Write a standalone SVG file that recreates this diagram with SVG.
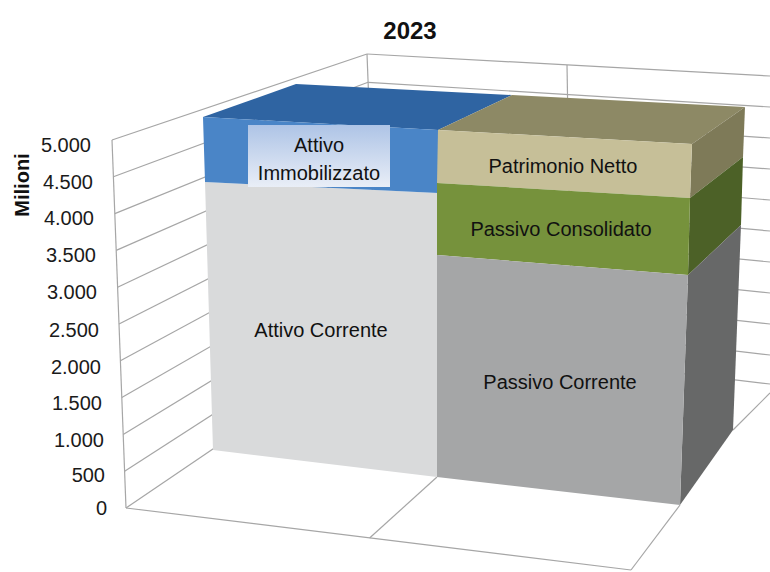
<svg xmlns="http://www.w3.org/2000/svg" width="770" height="572" viewBox="0 0 770 572">
<defs>
<linearGradient id="lblGrad" x1="0" y1="0" x2="0" y2="1">
<stop offset="0" stop-color="#aec4e6"/>
<stop offset="1" stop-color="#e9eef7"/>
</linearGradient>
</defs>
<style>
.grid{stroke:#a6a6a6;stroke-width:1.2;fill:none}
.tick{font-family:"Liberation Sans",Arial,sans-serif;font-size:20px;fill:#1a1a1a;text-anchor:end}
.lbl{font-family:"Liberation Sans",Arial,sans-serif;font-size:20px;fill:#111;text-anchor:middle}
.title{font-family:"Liberation Sans",Arial,sans-serif;font-size:24px;font-weight:bold;fill:#111;text-anchor:middle}
</style>
<rect width="770" height="572" fill="#ffffff"/>
<text class="title" x="410" y="39">2023</text>
<text x="29" y="185" transform="rotate(-90 29 185)" font-family="Liberation Sans, Arial, sans-serif" font-size="20" font-weight="bold" fill="#111" text-anchor="middle">Milioni</text>
<g id="axis-labels">
<text class="tick" x="91" y="152">5.000</text>
<text class="tick" x="93" y="189">4.500</text>
<text class="tick" x="94" y="225">4.000</text>
<text class="tick" x="96" y="262">3.500</text>
<text class="tick" x="97" y="299">3.000</text>
<text class="tick" x="99" y="337">2.500</text>
<text class="tick" x="101" y="374">2.000</text>
<text class="tick" x="102" y="410">1.500</text>
<text class="tick" x="104" y="447">1.000</text>
<text class="tick" x="105" y="482">500</text>
<text class="tick" x="107" y="515">0</text>
</g>
<g id="walls" class="grid">
<path d="M112,140 L126,508"/>
<path d="M367,54 L378,337"/>
<path d="M567,65 L572,360"/>
<path d="M126,508 L378,337"/>
<path d="M124.6,471.2 L376.9,308.7"/>
<path d="M123.2,434.4 L375.8,280.4"/>
<path d="M121.8,397.6 L374.7,252.1"/>
<path d="M120.4,360.8 L373.6,223.8"/>
<path d="M119,324 L372.5,195.5"/>
<path d="M117.6,287.2 L371.4,167.2"/>
<path d="M116.2,250.4 L370.3,138.9"/>
<path d="M114.8,213.6 L369.2,110.6"/>
<path d="M113.4,176.8 L368.1,82.3"/>
<path d="M112,140 L367,54"/>
<path d="M378,337 L770,384"/>
<path d="M376.9,308.7 L770,355"/>
<path d="M375.8,280.4 L770,324"/>
<path d="M374.7,252.1 L770,293"/>
<path d="M373.6,223.8 L770,262"/>
<path d="M372.5,195.5 L770,231"/>
<path d="M371.4,167.2 L770,200"/>
<path d="M370.3,138.9 L770,169"/>
<path d="M369.2,110.6 L770,138"/>
<path d="M368.1,82.3 L770,107"/>
<path d="M367,54 L770,76"/>
<path d="M126,508 L631,570"/>
<path d="M369.6,538 L437,477"/>
<path d="M631,570 L680,505"/>
<path d="M733,430 L770,393"/>
</g>
<g id="attivo-corrente">
<polygon points="205,182 438,193 437,477 213,450" fill="#d9dadb"/>
<text class="lbl" x="321" y="337" font-size="21">Attivo Corrente</text>
</g>
<g id="attivo-immobilizzato">
<polygon points="203,117 296,84 512,95 438,130" fill="#2f64a2"/>
<polygon points="203,117 438,130 438,193 205,182" fill="#4a85c7"/>
<rect x="248" y="125" width="142" height="62" fill="url(#lblGrad)"/>
<text class="lbl" x="319" y="152">Attivo</text>
<text class="lbl" x="319" y="180">Immobilizzato</text>
</g>
<g id="patrimonio-netto">
<polygon points="438,130 512,95 745,107 692,144" fill="#8d8965"/>
<polygon points="692,144 745,107 743,157 690,198" fill="#7e7a58"/>
<polygon points="438,130 692,144 690,198 437,183" fill="#c6bf98"/>
<text class="lbl" x="563" y="173" font-size="21">Patrimonio Netto</text>
</g>
<g id="passivo-consolidato">
<polygon points="690,198 743,157 741,225 688,275" fill="#4c6127"/>
<polygon points="437,183 690,198 688,275 437,255" fill="#76923c"/>
<text class="lbl" x="561" y="236" font-size="15.5">Passivo Consolidato</text>
</g>
<g id="passivo-corrente">
<polygon points="688,275 741,225 733,430 680,505" fill="#676868"/>
<polygon points="437,255 688,275 680,505 437,477" fill="#a5a6a7"/>
<text class="lbl" x="560" y="389">Passivo Corrente</text>
</g>
</svg>
